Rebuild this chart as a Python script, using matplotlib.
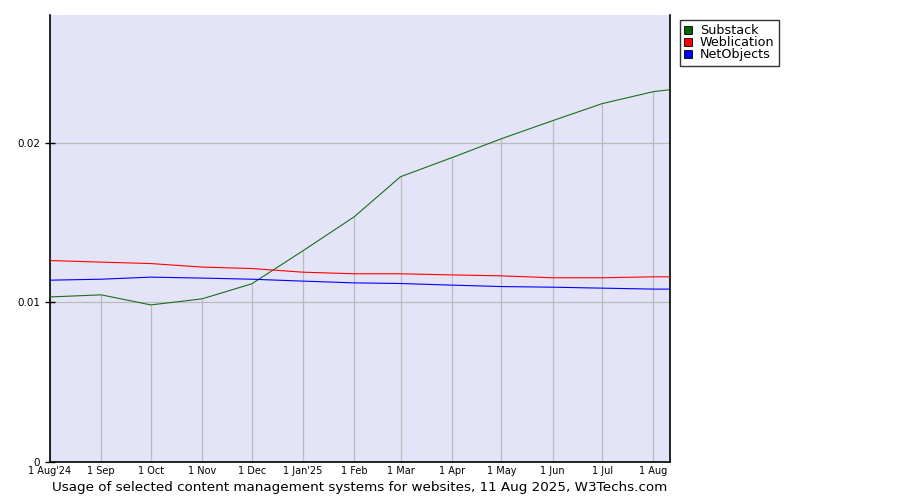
import matplotlib
matplotlib.use("Agg")
import matplotlib.pyplot as plt
from matplotlib.patches import Patch
import datetime as dt

dates = ["2024-08-01", "2024-09-01", "2024-10-01", "2024-11-01", "2024-12-01",
         "2025-01-01", "2025-02-01", "2025-03-01", "2025-04-01", "2025-05-01",
         "2025-06-01", "2025-07-01", "2025-08-01", "2025-08-11"]
substack = [0.01034, 0.01047, 0.00984, 0.01022, 0.01116, 0.01323, 0.01536,
            0.01787, 0.01906, 0.02025, 0.02138, 0.02245, 0.02320, 0.02332]
weblication = [0.01262, 0.01252, 0.01243, 0.01221, 0.01212, 0.01189, 0.01179,
               0.01179, 0.01172, 0.01166, 0.01154, 0.01154, 0.01160, 0.01160]
netobjects = [0.01139, 0.01145, 0.01158, 0.01152, 0.01145, 0.01133, 0.01122,
              0.01118, 0.01108, 0.01099, 0.01095, 0.01089, 0.01083, 0.01083]
series_names = ["Substack", "Weblication", "NetObjects"]
line_colors = ["#1a6e1a", "#ff0000", "#0000ff"]
legend_colors = ["#006400", "#ff0000", "#0000ff"]
xtick_labels = ["1 Aug'24", "1 Sep", "1 Oct", "1 Nov", "1 Dec", "1 Jan'25", "1 Feb",
                "1 Mar", "1 Apr", "1 May", "1 Jun", "1 Jul", "1 Aug"]
ytick_vals = [0, 0.01, 0.02]
ytick_labels = ["0", "0.01", "0.02"]
caption = "Usage of selected content management systems for websites, 11 Aug 2025, W3Techs.com"

x = [dt.datetime.strptime(d, "%Y-%m-%d") for d in dates]
xt = x[:len(xtick_labels)]

fig = plt.figure(figsize=(9, 5), dpi=100)
ax = fig.add_axes([50/900, 1-462/500, 620/900, 447/500])
ax.set_facecolor("#e4e4f8")

# drop lines from the top series down to the axis at each month
ax.vlines(xt, 0, substack[:len(xt)], color="#bbbbbb", lw=0.9, zorder=1)
for yv in ytick_vals[1:]:
    ax.axhline(yv, color="#bbbbbb", lw=0.9, zorder=1)

for vals, c in zip([substack, weblication, netobjects], line_colors):
    ax.plot(x, vals, color=c, lw=0.8, zorder=3)

ax.set_xlim(x[0], x[-1])
ax.set_ylim(0, 0.028)
ax.set_xticks(xt)
ax.set_xticklabels(xtick_labels, fontsize=7)
ax.set_yticks(ytick_vals)
ax.set_yticklabels(ytick_labels, fontsize=7.5)
ax.tick_params(axis="x", length=0, pad=3)
ax.tick_params(axis="y", length=7, direction="inout", width=1)
ax.spines["top"].set_visible(False)
for s in ["left", "bottom", "right"]:
    ax.spines[s].set_color("black")
    ax.spines[s].set_linewidth(1.2)

handles = [Patch(facecolor=c, edgecolor="black", lw=0.6) for c in legend_colors]
leg = fig.legend(handles, series_names, loc="upper left",
                 bbox_to_anchor=(680/900, 1-20/500), fontsize=9.2,
                 frameon=True, fancybox=False, edgecolor="black",
                 handlelength=0.62, handleheight=0.62, handletextpad=0.6,
                 borderpad=0.35, labelspacing=-0.08, borderaxespad=0)
leg.get_frame().set_linewidth(1.0)

fig.text(360/900, 1-488/500, caption, ha="center", va="center", fontsize=9.7)

fig.savefig("out.png", dpi=100)
